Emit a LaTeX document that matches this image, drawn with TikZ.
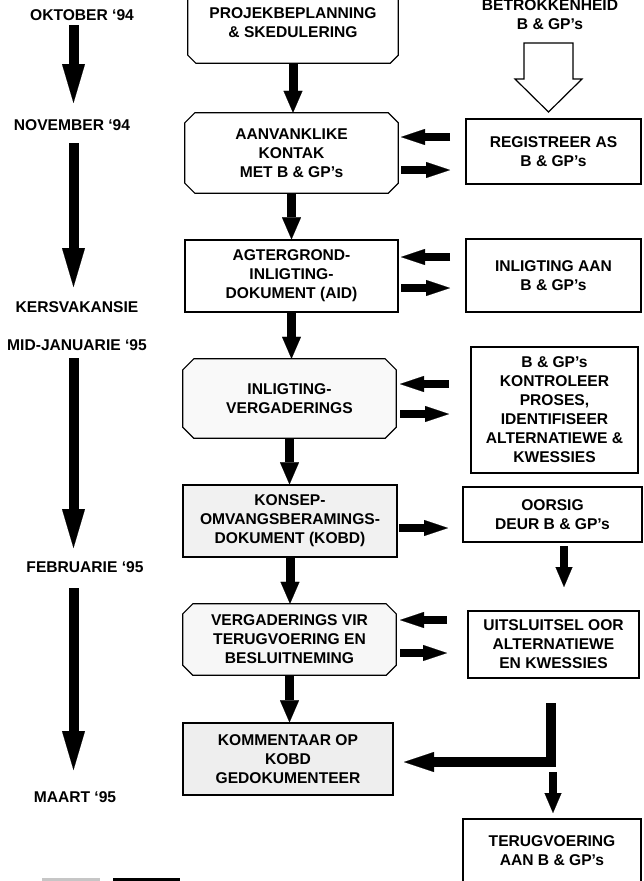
\documentclass[tikz,border=0pt]{standalone}
\usepackage{fontspec}
\setmainfont{Liberation Sans}
\usetikzlibrary{arrows.meta}
\pgfdeclarelayer{bg}
\pgfsetlayers{bg,main}
\newcommand\chamferbox[3]{%
  \begin{pgfonlayer}{bg}
  \draw[boxline,#1] ([xshift=#3]#2.north west) -- ([xshift=-#3]#2.north east) -- ([yshift=-#3]#2.north east) -- ([yshift=#3]#2.south east) -- ([xshift=-#3]#2.south east) -- ([xshift=#3]#2.south west) -- ([yshift=#3]#2.south west) -- ([yshift=-#3]#2.north west) -- cycle;
  \end{pgfonlayer}}
\begin{document}
\begin{tikzpicture}[x=1pt,y=-1pt,
  txt/.style={font=\bfseries\fontsize{15.6}{19}\selectfont, align=center, inner sep=0pt},
  boxline/.style={draw=black, line width=1.2pt, line join=miter},
  rbox/.style={txt, boxline},
  cbox/.style={txt},
  vconn/.style={draw, line width=9pt, -{Triangle[length=22pt,width=19pt,line width=0.1pt]}},
  sconn/.style={draw, line width=8pt, -{Triangle[length=20pt,width=17pt,line width=0.1pt]}},
  hconn/.style={draw, line width=8pt, -{Triangle[length=24pt,width=16pt,line width=0.1pt]}},
  tline/.style={draw, line width=10pt, -{Triangle[length=39pt,width=23pt,line width=0.1pt]}},
  lconn/.style={draw, line width=10pt, line join=miter, -{Triangle[length=30pt,width=20pt,line width=0.1pt]}},
]
\useasboundingbox (0,0) rectangle (643,881);
\clip (0,0) rectangle (643,881);

% timeline labels
\node[txt] (t1) at (82,15) {OKTOBER ‘94};
\node[txt] (t2) at (72,125) {NOVEMBER ‘94};
\node[txt] (t3) at (77,307) {KERSVAKANSIE};
\node[txt] (t4) at (77,345) {MID-JANUARIE ‘95};
\node[txt] (t5) at (85,567) {FEBRUARIE ‘95};
\node[txt] (t6) at (75,797) {MAART ‘95};

\coordinate (ta1) at (73.5,25);  \coordinate (tb1) at (73.5,103);
\coordinate (ta2) at (73.5,143); \coordinate (tb2) at (73.5,287);
\coordinate (ta3) at (73.5,358); \coordinate (tb3) at (73.5,548);
\coordinate (ta4) at (73.5,588); \coordinate (tb4) at (73.5,770);
\draw[tline] (ta1) -- (tb1);
\draw[tline] (ta2) -- (tb2);
\draw[tline] (ta3) -- (tb3);
\draw[tline] (ta4) -- (tb4);

% centre column
\node[cbox, minimum width=210pt, minimum height=80pt] (b1) at (293,23) {PROJEKBEPLANNING\\\& SKEDULERING};
\chamferbox{fill=white}{b1}{8pt}
\node[cbox, minimum width=213pt, minimum height=80pt] (b2) at (291.5,153) {AANVANKLIKE\\KONTAK\\MET B \& GP’s};
\chamferbox{fill=white}{b2}{10pt}
\node[rbox, minimum width=213pt, minimum height=72pt] (b3) at (291.5,276) {AGTERGROND-\\INLIGTING-\\DOKUMENT (AID)};
\node[cbox, minimum width=213pt, minimum height=79pt] (b4) at (289.5,398.5) {INLIGTING-\\VERGADERINGS};
\chamferbox{fill=gray!5}{b4}{11pt}
\node[rbox, fill=gray!11, minimum width=214pt, minimum height=72pt] (b5) at (290,521) {KONSEP-\\OMVANGSBERAMINGS-\\DOKUMENT (KOBD)};
\node[cbox, minimum width=213pt, minimum height=71pt] (b6) at (289.5,639.5) {VERGADERINGS VIR\\TERUGVOERING EN\\BESLUITNEMING};
\chamferbox{fill=gray!6}{b6}{10pt}
\node[rbox, fill=gray!13, minimum width=210pt, minimum height=72pt] (b7) at (288,759) {KOMMENTAAR OP\\KOBD\\GEDOKUMENTEER};

\draw[vconn] (b1.south) -- (b1.south |- b2.north);
\draw[vconn] (b2.south) -- (b2.south |- b3.north);
\draw[vconn] (b3.south) -- (b3.south |- b4.north);
\draw[vconn] (b4.south) -- (b4.south |- b5.north);
\draw[vconn] (b5.south) -- (b5.south |- b6.north);
\draw[vconn] (b6.south) -- (b6.south |- b7.north);

% right column
\node[txt] (top) at (550,15) {BETROKKENHEID\\B \& GP’s};
\node[rbox, minimum width=175pt, minimum height=65pt] (r1) at (553.5,151.5) {REGISTREER AS\\B \& GP’s};
\node[rbox, minimum width=175pt, minimum height=73pt] (r2) at (553.5,275.5) {INLIGTING AAN\\B \& GP’s};
\node[rbox, minimum width=167pt, minimum height=126pt] (r3) at (554.5,410) {B \& GP’s\\KONTROLEER\\PROSES,\\IDENTIFISEER\\ALTERNATIEWE \&\\KWESSIES};
\node[rbox, minimum width=179pt, minimum height=55pt] (r4) at (552.5,514.5) {OORSIG\\DEUR B \& GP’s};
\node[rbox, minimum width=171pt, minimum height=67pt] (r5) at (553.5,644.5) {UITSLUITSEL OOR\\ALTERNATIEWE\\EN KWESSIES};
\node[rbox, minimum width=178pt, minimum height=64pt] (r6) at (552,851) {TERUGVOERING\\AAN B \& GP’s};

% hollow arrow
\draw[boxline, fill=white] (524,43) -- (573,43) -- (573,79) -- (582,79) -- (548.5,112) -- (515,79) -- (524,79) -- cycle;

% horizontal arrows
\coordinate (l1a) at (450,137); \coordinate (l1b) at (401,137);
\coordinate (p1a) at (401,170); \coordinate (p1b) at (450,170);
\coordinate (l2a) at (450,257); \coordinate (l2b) at (401,257);
\coordinate (p2a) at (401,288); \coordinate (p2b) at (450,288);
\coordinate (l3a) at (449,384); \coordinate (l3b) at (400,384);
\coordinate (p3a) at (400,414); \coordinate (p3b) at (449,414);
\coordinate (p4a) at (399,528); \coordinate (p4b) at (448,528);
\coordinate (l5a) at (447,620); \coordinate (l5b) at (400,620);
\coordinate (p5a) at (400,653); \coordinate (p5b) at (447,653);
\draw[hconn] (l1a) -- (l1b);
\draw[hconn] (p1a) -- (p1b);
\draw[hconn] (l2a) -- (l2b);
\draw[hconn] (p2a) -- (p2b);
\draw[hconn] (l3a) -- (l3b);
\draw[hconn] (p3a) -- (p3b);
\draw[hconn] (p4a) -- (p4b);
\draw[hconn] (l5a) -- (l5b);
\draw[hconn] (p5a) -- (p5b);

% right column vertical arrows
\coordinate (o1) at (564,546); \coordinate (o2) at (564,587);
\draw[sconn] (o1) -- (o2);
\coordinate (k1) at (551,703); \coordinate (k2) at (551,762); \coordinate (k3) at (404,762);
\draw[lconn] (k1) -- (k2) -- (k3);
\coordinate (d1) at (553,772); \coordinate (d2) at (553,813);
\draw[sconn] (d1) -- (d2);

% bottom marks
\draw[gray!45, line width=2.5pt] (42,879.5) -- (100,879.5);
\draw[black, line width=3pt] (113,879.5) -- (180,879.5);
\end{tikzpicture}
\end{document}
